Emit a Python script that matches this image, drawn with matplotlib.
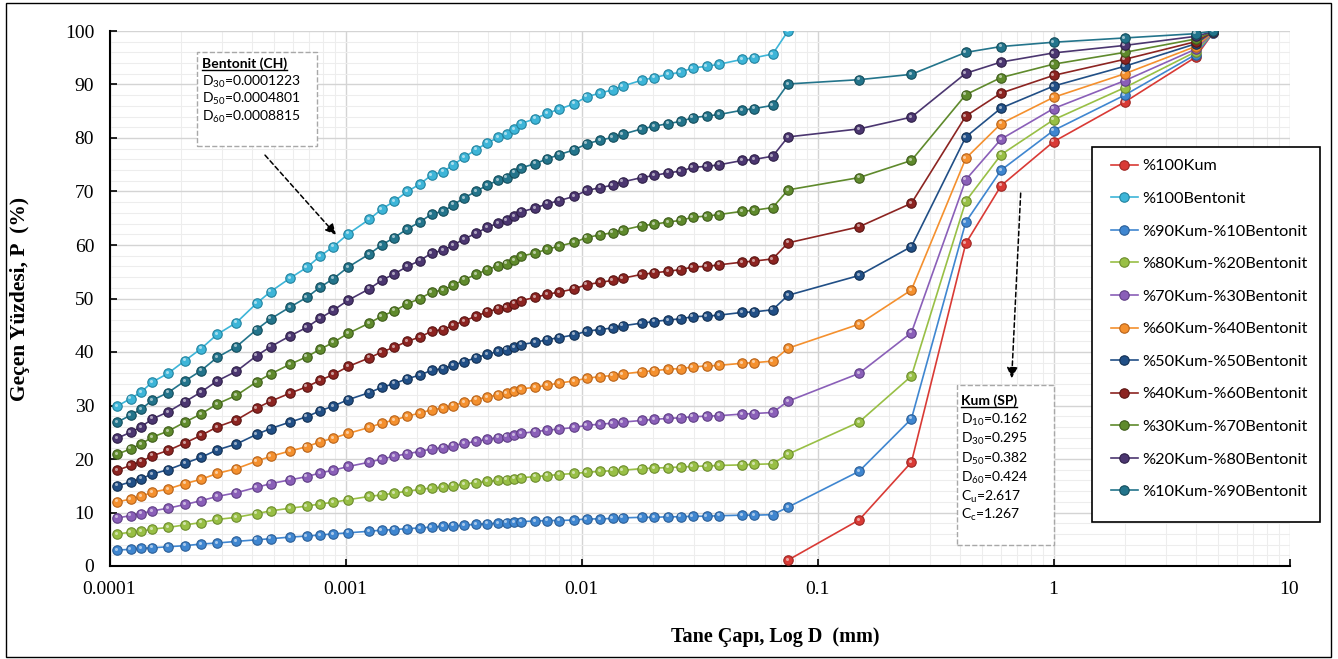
import numpy as np
import matplotlib.pyplot as plt
from matplotlib.patches import Rectangle
from matplotlib.lines import Line2D
from matplotlib.ticker import MultipleLocator, LogLocator, NullFormatter
import matplotlib.transforms as mtransforms

plt.rcParams['mathtext.default'] = 'regular'

# particle diameters (mm): fine fraction (laser/hydrometer) and sieves
d_fine = [1.08e-4, 1.23e-4, 1.36e-4, 1.52e-4, 1.77e-4, 2.09e-4, 2.44e-4, 2.86e-4,
          3.45e-4, 4.20e-4, 4.82e-4, 5.82e-4, 6.85e-4, 7.80e-4, 8.88e-4, 1.028e-3,
          1.261e-3, 1.424e-3, 1.610e-3, 1.828e-3, 2.069e-3, 2.319e-3, 2.597e-3,
          2.863e-3, 3.177e-3, 3.573e-3, 3.989e-3, 4.442e-3, 4.822e-3, 5.176e-3,
          5.540e-3, 6.353e-3, 7.163e-3, 8.051e-3, 9.322e-3, 1.052e-2, 1.198e-2,
          1.356e-2, 1.495e-2, 1.799e-2, 2.035e-2, 2.333e-2, 2.633e-2, 2.959e-2,
          3.393e-2, 3.836e-2, 4.802e-2, 5.397e-2, 6.460e-2]
d_sieve = [0.075, 0.15, 0.25, 0.425, 0.6, 1.0, 2.0, 4.0, 4.75]

labels = ['%100Kum', '%100Bentonit', '%90Kum-%10Bentonit', '%80Kum-%20Bentonit',
          '%70Kum-%30Bentonit', '%60Kum-%40Bentonit', '%50Kum-%50Bentonit',
          '%40Kum-%60Bentonit', '%30Kum-%70Bentonit', '%20Kum-%80Bentonit',
          '%10Kum-%90Bentonit']

kum100 = [1.1, 8.6, 19.4, 60.3, 71.1, 79.3, 86.7, 95.1, 99.7]
bent100 = [29.9, 31.3, 32.5, 34.4, 36.0, 38.4, 40.6, 43.3, 45.5, 49.1, 51.3, 53.8, 55.8,
           57.9, 59.7, 62.1, 64.8, 66.7, 68.2, 70.0, 71.4, 73.1, 73.7, 75.0, 76.4, 77.8,
           79.1, 80.1, 80.7, 81.7, 82.7, 83.6, 84.6, 85.4, 86.4, 87.7, 88.4, 89.0, 89.7,
           90.8, 91.3, 91.9, 92.3, 93.1, 93.4, 93.8, 94.7, 95.0, 95.7, 100.0]
k90b10 = [3.0, 3.1, 3.3, 3.4, 3.6, 3.8, 4.1, 4.3, 4.6, 4.9, 5.1, 5.4, 5.6, 5.8, 6.0, 6.2,
          6.5, 6.7, 6.8, 7.0, 7.1, 7.3, 7.4, 7.5, 7.6, 7.8, 7.9, 8.0, 8.1, 8.2, 8.3, 8.4,
          8.5, 8.5, 8.6, 8.8, 8.8, 8.9, 9.0, 9.1, 9.1, 9.2, 9.2, 9.3, 9.3, 9.4, 9.5, 9.5,
          9.6, 11.0, 17.7, 27.5, 64.3, 74.0, 81.4, 88.0, 95.6, 99.7]
k80b20 = [6.0, 6.3, 6.5, 6.9, 7.2, 7.7, 8.1, 8.7, 9.1, 9.8, 10.3, 10.8, 11.2, 11.6, 11.9,
          12.4, 13.0, 13.3, 13.6, 14.0, 14.3, 14.6, 14.7, 15.0, 15.3, 15.6, 15.8, 16.0,
          16.1, 16.3, 16.5, 16.7, 16.9, 17.1, 17.3, 17.5, 17.7, 17.8, 17.9, 18.2, 18.3,
          18.4, 18.5, 18.6, 18.7, 18.8, 18.9, 19.0, 19.1,
          20.9, 26.9, 35.5, 68.2, 76.9, 83.4, 89.4, 96.1, 99.8]
k70b30 = [9.0, 9.4, 9.8, 10.3, 10.8, 11.5, 12.2, 13.0, 13.7, 14.7, 15.4, 16.1, 16.7,
          17.4, 17.9, 18.6, 19.4, 20.0, 20.5, 21.0, 21.4, 21.9, 22.1, 22.5, 22.9, 23.3,
          23.7, 24.0, 24.2, 24.5, 24.8, 25.1, 25.4, 25.6, 25.9, 26.3, 26.5, 26.7, 26.9,
          27.2, 27.4, 27.6, 27.7, 27.9, 28.0, 28.1, 28.4, 28.5, 28.7,
          30.8, 36.0, 43.6, 72.2, 79.8, 85.5, 90.7, 96.6, 99.8]
k60b40 = [12.0, 12.5, 13.0, 13.8, 14.4, 15.4, 16.2, 17.3, 18.2, 19.6, 20.5, 21.5, 22.3,
          23.2, 23.9, 24.8, 25.9, 26.7, 27.3, 28.0, 28.6, 29.2, 29.5, 30.0, 30.6, 31.1,
          31.6, 32.0, 32.3, 32.7, 33.1, 33.4, 33.8, 34.2, 34.6, 35.1, 35.4, 35.6, 35.9,
          36.3, 36.5, 36.8, 36.9, 37.2, 37.4, 37.5, 37.9, 38.0, 38.3,
          40.7, 45.2, 51.6, 76.2, 82.7, 87.6, 92.0, 97.1, 99.8]
k50b50 = [15.0, 15.7, 16.3, 17.2, 18.0, 19.2, 20.3, 21.7, 22.8, 24.6, 25.7, 26.9, 27.9,
          29.0, 29.9, 31.1, 32.4, 33.4, 34.1, 35.0, 35.7, 36.6, 36.9, 37.5, 38.2, 38.9,
          39.6, 40.1, 40.4, 40.9, 41.4, 41.8, 42.3, 42.7, 43.2, 43.9, 44.2, 44.5, 44.9,
          45.4, 45.7, 46.0, 46.2, 46.6, 46.7, 46.9, 47.4, 47.5, 47.9,
          50.6, 54.3, 59.7, 80.2, 85.6, 89.7, 93.4, 97.6, 99.9]
k40b60 = [17.9, 18.8, 19.5, 20.6, 21.6, 23.0, 24.4, 26.0, 27.3, 29.5, 30.8, 32.3, 33.5,
          34.7, 35.8, 37.3, 38.9, 40.0, 40.9, 42.0, 42.8, 43.9, 44.2, 45.0, 45.8, 46.7,
          47.5, 48.1, 48.4, 49.0, 49.6, 50.2, 50.8, 51.2, 51.8, 52.6, 53.0, 53.4, 53.8,
          54.5, 54.8, 55.1, 55.4, 55.9, 56.0, 56.3, 56.8, 57.0, 57.4,
          60.4, 63.4, 67.8, 84.1, 88.4, 91.7, 94.7, 98.0, 99.9]
k30b70 = [20.9, 21.9, 22.8, 24.1, 25.2, 26.9, 28.4, 30.3, 31.9, 34.4, 35.9, 37.7, 39.1,
          40.5, 41.8, 43.5, 45.4, 46.7, 47.7, 49.0, 50.0, 51.2, 51.6, 52.5, 53.5, 54.5,
          55.4, 56.1, 56.5, 57.2, 57.9, 58.5, 59.2, 59.8, 60.5, 61.4, 61.9, 62.3, 62.8,
          63.6, 63.9, 64.3, 64.6, 65.2, 65.4, 65.7, 66.3, 66.5, 67.0,
          70.3, 72.6, 75.8, 88.1, 91.3, 93.8, 96.0, 98.5, 99.9]
k20b80 = [23.9, 25.0, 26.0, 27.5, 28.8, 30.7, 32.5, 34.6, 36.4, 39.3, 41.0, 43.0, 44.6,
          46.3, 47.8, 49.7, 51.8, 53.4, 54.6, 56.0, 57.1, 58.5, 59.0, 60.0, 61.1, 62.2,
          63.3, 64.1, 64.6, 65.4, 66.2, 66.9, 67.7, 68.3, 69.1, 70.2, 70.7, 71.2, 71.8,
          72.6, 73.0, 73.5, 73.8, 74.5, 74.7, 75.0, 75.8, 76.0, 76.6,
          80.2, 81.7, 83.9, 92.1, 94.2, 95.9, 97.3, 99.0, 99.9]
k10b90 = [26.9, 28.2, 29.3, 31.0, 32.4, 34.6, 36.5, 39.0, 41.0, 44.2, 46.2, 48.4, 50.2,
          52.1, 53.7, 55.9, 58.3, 60.0, 61.4, 63.0, 64.3, 65.8, 66.3, 67.5, 68.8, 70.0,
          71.2, 72.1, 72.6, 73.5, 74.4, 75.2, 76.1, 76.9, 77.8, 78.9, 79.6, 80.1, 80.7,
          81.7, 82.2, 82.7, 83.1, 83.8, 84.1, 84.4, 85.2, 85.5, 86.1,
          90.1, 90.9, 91.9, 96.0, 97.1, 97.9, 98.7, 99.5, 100.0]

colors = ['#D93A35', '#3DB5D8', '#3F86D0', '#98BF45', '#8A5FB8', '#F4902E',
          '#214F86', '#8C2421', '#5F8A2C', '#4B3670', '#23748B']
edges = ['#9E2622', '#22839F', '#2A5E97', '#6C8C2C', '#5F3E85', '#B8631A',
         '#122F52', '#5A1412', '#3E5C1A', '#2E1F47', '#134D5C']

series_x = [d_sieve, d_fine + [0.075]] + [d_fine + d_sieve] * 9
series_y = [kum100, bent100, k90b10, k80b20, k70b30, k60b40, k50b50,
            k40b60, k30b70, k20b80, k10b90]

W, H = 1338, 659
fig = plt.figure(figsize=(W / 100, H / 100), dpi=100)
ax = fig.add_axes([109.5 / W, 1 - 566 / H, 1180 / W, 535 / H])

shine = mtransforms.offset_copy(ax.transData, fig=fig, x=-1.0, y=1.0, units='points')
handles = []
for i in range(len(labels)):
    h, = ax.plot(series_x[i], series_y[i], '-o', color=colors[i], lw=1.2,
                 ms=6.8, mfc=colors[i], mec=edges[i], mew=0.8,
                 label=labels[i], zorder=3 + i * 0.1)
    ax.plot(series_x[i], series_y[i], 'o', ms=2.2, color='white', alpha=0.55,
            mec='none', transform=shine, zorder=3.05 + i * 0.1)
    handles.append(h)

ax.set_xscale('log')
ax.set_xlim(1e-4, 10)
ax.set_ylim(0, 100)
ax.set_xticks([1e-4, 1e-3, 1e-2, 1e-1, 1, 10])
ax.set_xticklabels(['0.0001', '0.001', '0.01', '0.1', '1', '10'])
ax.xaxis.set_minor_locator(LogLocator(base=10, subs=np.arange(2, 10)))
ax.xaxis.set_minor_formatter(NullFormatter())
ax.set_yticks(np.arange(0, 101, 10))
ax.yaxis.set_minor_locator(MultipleLocator(2))

ax.grid(which='major', color='#D4D4D4', lw=1.0, zorder=0)
ax.grid(which='minor', color='#EDEDED', lw=0.8, zorder=0)
ax.set_axisbelow(True)
for s in ['top', 'right']:
    ax.spines[s].set_visible(False)
for s in ['left', 'bottom']:
    ax.spines[s].set_linewidth(1.5)
    ax.spines[s].set_color('black')
ax.tick_params(which='major', direction='in', length=5, width=1.2, pad=11,
               labelsize=14, labelfontfamily='Liberation Serif')
ax.tick_params(which='minor', length=0)

ax.set_xlabel('Tane Çapı, Log D  (mm)', fontfamily='Liberation Serif',
              fontweight='bold', fontsize=14.5)
ax.xaxis.set_label_coords((775 - 109.5) / 1180, (566 - 627) / 535)
ax.set_ylabel('Geçen Yüzdesi, P  (%)', fontfamily='Liberation Serif',
              fontweight='bold', fontsize=15.5)
ax.yaxis.set_label_coords((30 - 109.5) / 1180, 0.5)

# legend: entries without frame, frame drawn as a separate box behind them
leg = ax.legend(handles=handles, loc='upper left',
                bbox_to_anchor=(1111 / W, 1 - 159 / H), bbox_transform=fig.transFigure,
                prop={'family': 'Lato', 'size': 11.7}, frameon=False,
                handlelength=1.65, handletextpad=0.3, labelspacing=1.12,
                borderpad=0, borderaxespad=0)
leg.set_zorder(10)
ax.add_artist(Rectangle((1092 / W, 1 - 522 / H), 228 / W, 375 / H,
                        transform=fig.transFigure, facecolor='white', clip_on=False,
                        edgecolor='black', lw=1.2, zorder=9.5))

# annotation boxes
box_font = {'family': 'Lato', 'size': 10}
ax.add_patch(Rectangle((0.0742, 0.785), 0.1016, 0.176, transform=ax.transAxes,
                       facecolor='white', edgecolor='#A8A8A8', ls='--', lw=1.0, zorder=8))
ax.add_patch(Rectangle((0.7182, 0.0393), 0.0826, 0.299, transform=ax.transAxes,
                       facecolor='white', edgecolor='#A8A8A8', ls='--', lw=1.0, zorder=8))

bent_lines = [r'D$_{30}$=0.0001223', r'D$_{50}$=0.0004801', r'D$_{60}$=0.0008815']
bent_y = [0.9053, 0.8723, 0.8398]
kum_lines = [r'D$_{10}$=0.162', r'D$_{30}$=0.295', r'D$_{50}$=0.382', r'D$_{60}$=0.424',
             r'C$_{u}$=2.617', r'C$_{c}$=1.267']
kum_y = [0.2729, 0.2374, 0.2000, 0.1645, 0.1290, 0.0953]

t1 = ax.text(0.0784, 0.9383, 'Bentonit (CH)', transform=ax.transAxes, va='center',
             fontweight='bold', zorder=9, **box_font)
for s, yy in zip(bent_lines, bent_y):
    ax.text(0.0784, yy, s, transform=ax.transAxes, va='center', zorder=9, **box_font)
t2 = ax.text(0.7216, 0.3084, 'Kum (SP)', transform=ax.transAxes, va='center',
             fontweight='bold', zorder=9, **box_font)
for s, yy in zip(kum_lines, kum_y):
    ax.text(0.7216, yy, s, transform=ax.transAxes, va='center', zorder=9, **box_font)

arrow = dict(arrowstyle='-|>', linestyle=(0, (3, 2)), color='black', lw=1.1,
             mutation_scale=16, shrinkA=0, shrinkB=0)
ax.annotate('', xy=(9.12e-4, 61.9), xytext=(4.56e-4, 76.8), arrowprops=arrow, zorder=9)
ax.annotate('', xy=(0.665, 35.1), xytext=(0.726, 69.7), arrowprops=arrow, zorder=9)

# underline the box titles
fig.canvas.draw()
r = fig.canvas.get_renderer()
for t in (t1, t2):
    bb = t.get_window_extent(r)
    fig.add_artist(Line2D([bb.x0, bb.x1], [bb.y0 + 0.5, bb.y0 + 0.5],
                          transform=mtransforms.IdentityTransform(),
                          color='black', lw=1.0, zorder=12))

# outer chart border
fig.add_artist(Rectangle((6 / W, 2 / H), 1325 / W, 654 / H,
                         transform=fig.transFigure, fill=False, ec='black', lw=1.0))

fig.savefig('out.png', dpi=100)
